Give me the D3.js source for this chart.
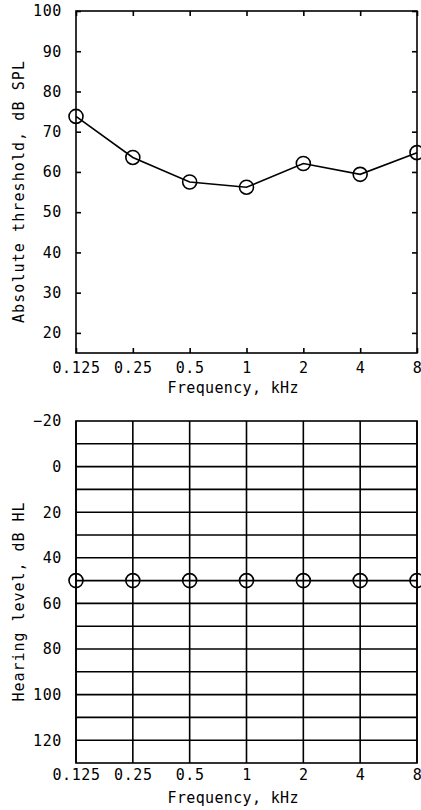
<!DOCTYPE html>
<html>
<head>
<meta charset="utf-8">
<script src="https://cdn.jsdelivr.net/npm/d3@7"></script>
<style>
  html, body { margin: 0; padding: 0; background: #fff; }
  svg { display: block; }
  text { font-family: "DejaVu Sans Mono", monospace; fill: #000; }
</style>
</head>
<body>
<svg id="chart" width="421" height="810"></svg>
<script>
// ---- data ----
const frequencies = [0.125, 0.25, 0.5, 1, 2, 4, 8];
const freqLabels = ["0.125", "0.25", "0.5", "1", "2", "4", "8"];
const thresholdSPL = [73.8, 63.6, 57.5, 56.2, 62.1, 59.4, 64.8];
const hearingLevelHL = [50, 50, 50, 50, 50, 50, 50];
const splTicks = [20, 30, 40, 50, 60, 70, 80, 90, 100];
const hlTicks = [-20, 0, 20, 40, 60, 80, 100, 120];
const hlGrid = [-10, 0, 10, 20, 30, 40, 50, 60, 70, 80, 90, 100, 110, 120];

const svg = d3.select("#chart");
const L = 76, R = 417;
const FS = 15;
const SW = 1.6;

const xScale = d3.scaleLog().base(2).domain([0.125, 8]).range([L, R]);
const fmtF = d => freqLabels[frequencies.indexOf(d)];

function styleAxis(g, hideText) {
  g.select(".domain").remove();
  g.selectAll("line").attr("stroke", "#000").attr("stroke-width", SW);
  g.selectAll("text").attr("font-size", FS).attr("font-family", "DejaVu Sans Mono, monospace")
    .attr("letter-spacing", 0.6).attr("fill", "#000");
  if (hideText) g.selectAll("text").remove();
}

// ================= TOP CHART =================
const T1 = 11, B1 = 353;
const y1 = d3.scaleLinear().domain([15, 100]).range([B1, T1]);
const topG = svg.append("g");

topG.append("g").attr("transform", `translate(${L},0)`)
  .call(d3.axisLeft(y1).tickValues(splTicks).tickSizeInner(-5).tickSizeOuter(0).tickPadding(14))
  .call(g => styleAxis(g, false));
topG.append("g").attr("transform", `translate(${R},0)`)
  .call(d3.axisRight(y1).tickValues(splTicks).tickSizeInner(-5).tickSizeOuter(0))
  .call(g => styleAxis(g, true));
topG.append("g").attr("transform", `translate(0,${B1})`)
  .call(d3.axisBottom(xScale).tickValues(frequencies).tickFormat(fmtF).tickSizeInner(-5).tickSizeOuter(0).tickPadding(9))
  .call(g => styleAxis(g, false));
topG.append("g").attr("transform", `translate(0,${T1})`)
  .call(d3.axisTop(xScale).tickValues(frequencies).tickSizeInner(-5).tickSizeOuter(0))
  .call(g => styleAxis(g, true));

topG.append("rect").attr("x", L).attr("y", T1).attr("width", R - L).attr("height", B1 - T1)
  .attr("fill", "none").attr("stroke", "#000").attr("stroke-width", SW);

const line1 = d3.line().x((d, i) => xScale(frequencies[i])).y(d => y1(d));
topG.append("path").datum(thresholdSPL).attr("d", line1)
  .attr("fill", "none").attr("stroke", "#000").attr("stroke-width", SW);
topG.selectAll("circle.pt").data(thresholdSPL).join("circle")
  .attr("class", "pt")
  .attr("cx", (d, i) => xScale(frequencies[i])).attr("cy", d => y1(d)).attr("r", 7)
  .attr("fill", "none").attr("stroke", "#000").attr("stroke-width", SW);

topG.append("text").attr("x", 233).attr("y", 393).attr("text-anchor", "middle")
  .attr("font-size", FS).attr("textLength", 131).attr("lengthAdjust", "spacing")
  .text("Frequency, kHz");
topG.append("text").attr("transform", "translate(24,192) rotate(-90)").attr("text-anchor", "middle")
  .attr("font-size", FS).attr("textLength", 262).attr("lengthAdjust", "spacing")
  .text("Absolute threshold, dB SPL");

// ================= BOTTOM CHART =================
const T2 = 421, B2 = 763;
const y2 = d3.scaleLinear().domain([-20, 130]).range([T2, B2]);
const botG = svg.append("g");

// grid
botG.append("g").selectAll("line.h").data(hlGrid).join("line")
  .attr("x1", L).attr("x2", R).attr("y1", d => y2(d)).attr("y2", d => y2(d))
  .attr("stroke", "#000").attr("stroke-width", SW);
botG.append("g").selectAll("line.v").data(frequencies).join("line")
  .attr("x1", d => xScale(d)).attr("x2", d => xScale(d)).attr("y1", T2).attr("y2", B2)
  .attr("stroke", "#000").attr("stroke-width", SW);

botG.append("g").attr("transform", `translate(${L},0)`)
  .call(d3.axisLeft(y2).tickValues(hlTicks).tickFormat(d => d < 0 ? "\u2212" + Math.abs(d) : String(d))
    .tickSizeInner(0).tickSizeOuter(0).tickPadding(14))
  .call(g => styleAxis(g, false));
botG.append("g").attr("transform", `translate(0,${B2})`)
  .call(d3.axisBottom(xScale).tickValues(frequencies).tickFormat(fmtF).tickSizeInner(0).tickSizeOuter(0).tickPadding(6))
  .call(g => styleAxis(g, false));

botG.append("rect").attr("x", L).attr("y", T2).attr("width", R - L).attr("height", B2 - T2)
  .attr("fill", "none").attr("stroke", "#000").attr("stroke-width", SW);

botG.selectAll("circle.pt").data(hearingLevelHL).join("circle")
  .attr("class", "pt")
  .attr("cx", (d, i) => xScale(frequencies[i])).attr("cy", d => y2(d)).attr("r", 7)
  .attr("fill", "none").attr("stroke", "#000").attr("stroke-width", SW);

botG.append("text").attr("x", 233).attr("y", 803).attr("text-anchor", "middle")
  .attr("font-size", FS).attr("textLength", 131).attr("lengthAdjust", "spacing")
  .text("Frequency, kHz");
botG.append("text").attr("transform", "translate(24,602) rotate(-90)").attr("text-anchor", "middle")
  .attr("font-size", FS).attr("textLength", 199).attr("lengthAdjust", "spacing")
  .text("Hearing level, dB HL");
</script>
</body>
</html>
